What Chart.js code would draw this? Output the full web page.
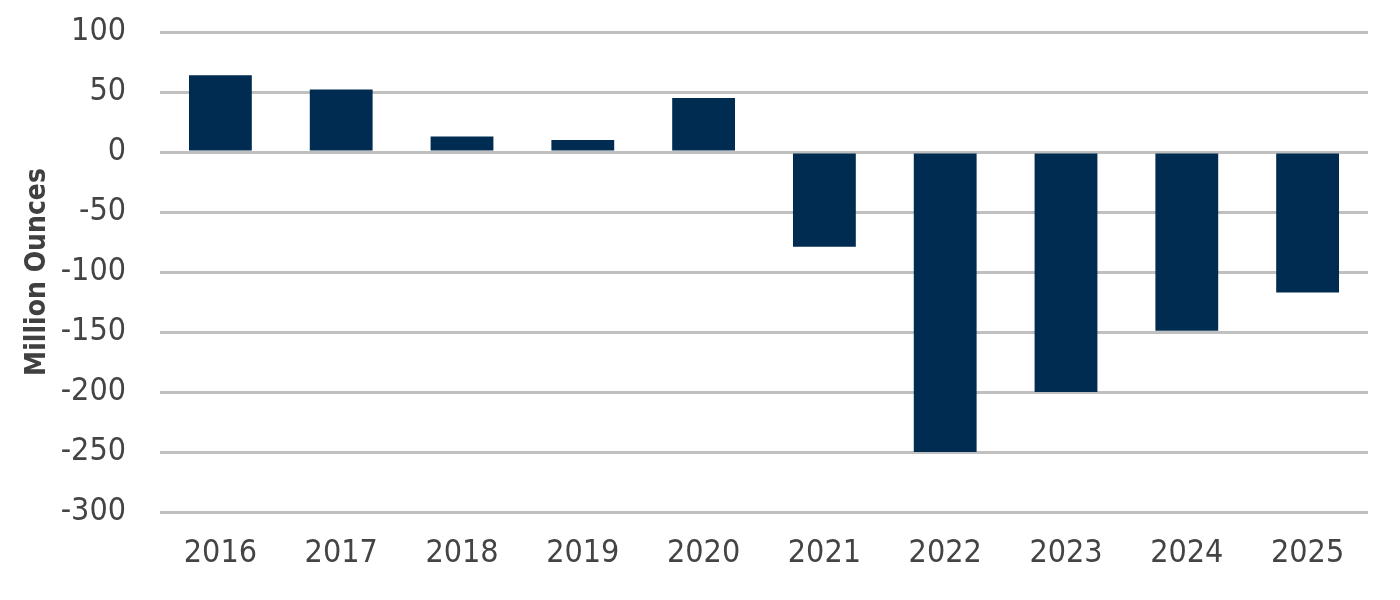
<!DOCTYPE html>
<html>
<head>
<meta charset="utf-8">
<script src="https://cdn.jsdelivr.net/npm/chart.js@4"></script>
<style>
  html, body { margin: 0; padding: 0; background: #fff; }
  #wrap { width: 1400px; height: 600px; position: relative; }
</style>
</head>
<body>
<div id="wrap"><canvas id="chart" width="1400" height="600"></canvas></div>
<script>
const years = ['2016', '2017', '2018', '2019', '2020', '2021', '2022', '2023', '2024', '2025'];
const balance = [64, 52, 13, 10, 45, -79, -250, -200, -149, -117];
const yTicks = [100, 50, 0, -50, -100, -150, -200, -250, -300];

const fontFamily = "'Liberation Sans Narrow', 'DejaVu Sans Condensed', 'Roboto', sans-serif";

const ctx = document.getElementById('chart').getContext('2d');
new Chart(ctx, {
    type: 'bar',
    data: {
        labels: years,
        datasets: [{
            label: 'Million Ounces',
            data: balance,
            backgroundColor: '#012c52',
            borderWidth: 0,
            categoryPercentage: 1,
            barPercentage: 0.52
        }]
    },
    options: {
        responsive: false,
        animation: false,
        layout: { padding: { top: 32, right: 32, bottom: 0, left: 0 } },
        plugins: { legend: { display: false }, tooltip: { enabled: false } },
        scales: {
            x: {
                grid: { display: false, drawTicks: false },
                border: { display: false },
                ticks: {
                    color: '#444',
                    font: { family: fontFamily, size: 32 },
                    padding: 22
                },
                afterFit: s => { s.height = 88; }
            },
            y: {
                min: -300,
                max: 100,
                afterBuildTicks: s => { s.ticks = yTicks.map(v => ({ value: v })); },
                // tick marks kept invisible, their length only spaces the labels off the grid
                grid: { color: '#c0c0c0', lineWidth: 3, drawTicks: true, tickLength: 34, tickColor: 'rgba(0,0,0,0)' },
                border: { display: false },
                ticks: {
                    color: '#444',
                    font: { family: fontFamily, size: 32, lineHeight: 1 },
                    padding: 0
                },
                title: {
                    display: true,
                    text: 'Million Ounces',
                    color: '#404040',
                    font: { family: fontFamily, size: 28, weight: 'bold' },
                    padding: { top: 21, bottom: 0 }
                },
                afterFit: s => { s.width = 160; }
            }
        }
    }
});
</script>
</body>
</html>
